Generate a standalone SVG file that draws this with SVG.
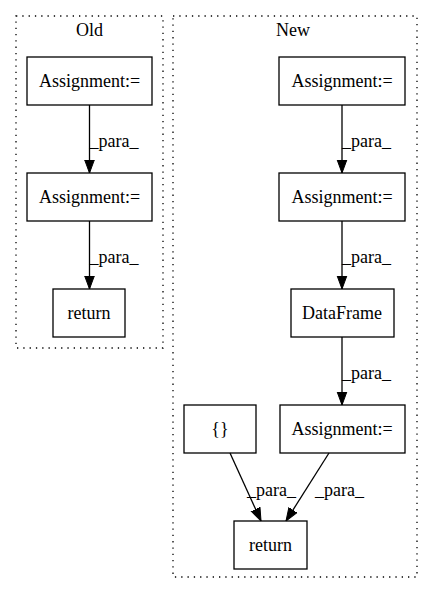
<svg xmlns="http://www.w3.org/2000/svg" width="432" height="596" viewBox="0 0 432 596">
<style>
text{font-family:"Liberation Serif","Times New Roman","DejaVu Serif",serif;font-size:18px;fill:#000}
.c{text-anchor:middle}
.n{fill:none;stroke:#000;stroke-width:1.3}
.cl{fill:none;stroke:#000;stroke-width:1.3;stroke-dasharray:1.3,5}
.e{fill:none;stroke:#000;stroke-width:1.3}
</style>
<defs>
<marker id="a" markerWidth="13" markerHeight="12" refX="13" refY="6" orient="auto" markerUnits="userSpaceOnUse">
<polygon points="0,1.2 13,6 0,10.8" fill="#000" stroke="#000"/>
</marker>
</defs>
<rect width="432" height="596" fill="#fff"/>
<g id="cluster_old">
<rect class="cl" x="16" y="16" width="147" height="332"/>
<text class="c" x="89.5" y="36">Old</text>
</g>
<g id="cluster_new">
<rect class="cl" x="173" y="16" width="244" height="561"/>
<text class="c" x="293" y="36">New</text>
</g>
<g id="old_assign1"><rect class="n" x="27" y="57" width="125" height="48"/><text class="c" x="89.5" y="87">Assignment:=</text></g>
<g id="old_assign2"><rect class="n" x="27" y="173" width="125" height="48"/><text class="c" x="89.5" y="203">Assignment:=</text></g>
<g id="old_return"><rect class="n" x="53" y="289" width="72" height="48"/><text class="c" x="89" y="319">return</text></g>
<g id="new_assign1"><rect class="n" x="279" y="57" width="126" height="48"/><text class="c" x="342" y="87">Assignment:=</text></g>
<g id="new_assign2"><rect class="n" x="279" y="173" width="126" height="48"/><text class="c" x="342" y="203">Assignment:=</text></g>
<g id="new_dataframe"><rect class="n" x="291" y="289" width="103" height="48"/><text class="c" x="342" y="319">DataFrame</text></g>
<g id="new_assign3"><rect class="n" x="280" y="405" width="125" height="48"/><text class="c" x="342" y="435">Assignment:=</text></g>
<g id="new_braces"><rect class="n" x="184" y="405" width="72" height="48"/><text class="c" x="220" y="435">{}</text></g>
<g id="new_return"><rect class="n" x="234" y="521" width="73" height="48"/><text class="c" x="270.5" y="551">return</text></g>
<g id="connectors">
<line class="e" x1="89.5" y1="105" x2="89.5" y2="173" marker-end="url(#a)"/>
<text x="89.5" y="147">_para_</text>
<line class="e" x1="89.5" y1="221" x2="89.5" y2="289" marker-end="url(#a)"/>
<text x="89.5" y="263">_para_</text>
<line class="e" x1="342" y1="105" x2="342" y2="173" marker-end="url(#a)"/>
<text x="342" y="147">_para_</text>
<line class="e" x1="342" y1="221" x2="342" y2="289" marker-end="url(#a)"/>
<text x="342" y="263">_para_</text>
<line class="e" x1="342" y1="337" x2="342" y2="405" marker-end="url(#a)"/>
<text x="342" y="379">_para_</text>
<line class="e" x1="230" y1="453" x2="261" y2="521" marker-end="url(#a)"/>
<text x="247" y="496">_para_</text>
<line class="e" x1="329" y1="453" x2="286" y2="521" marker-end="url(#a)"/>
<text x="315" y="496">_para_</text>
</g>
</svg>
